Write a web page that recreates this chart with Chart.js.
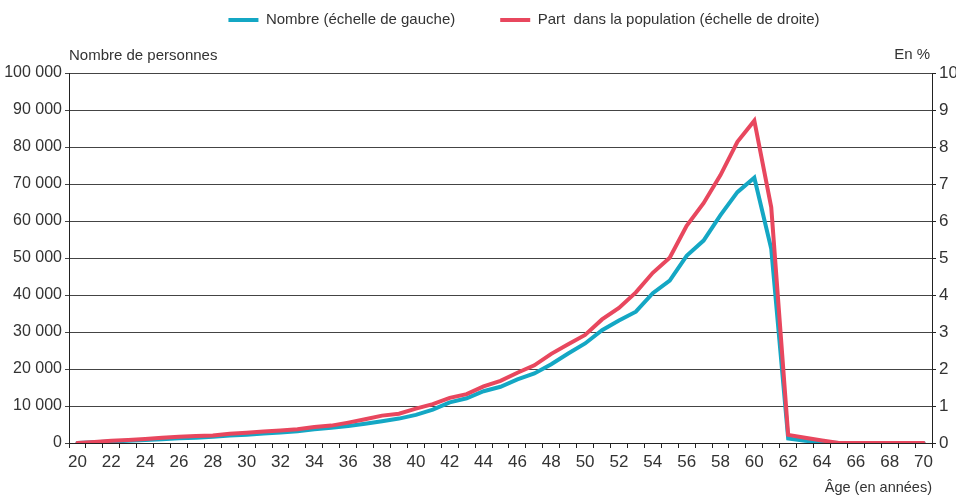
<!DOCTYPE html>
<html>
<head>
<meta charset="utf-8">
<script src="https://cdn.jsdelivr.net/npm/chart.js@4/dist/chart.umd.min.js"></script>
<style>
  html, body { margin: 0; padding: 0; background: #fff; }
  #wrap { width: 956px; height: 497px; }
</style>
</head>
<body>
<div id="wrap"><canvas id="graph"></canvas></div>
<script>
// ages 20 to 70
var ages = [20,21,22,23,24,25,26,27,28,29,30,31,32,33,34,35,36,37,38,39,40,
  41,42,43,44,45,46,47,48,49,50,51,52,53,54,55,56,57,58,59,60,
  61,62,63,64,65,66,67,68,69,70];

// nombre de personnes (échelle de gauche)
var nombre = [0,200,400,600,800,1000,1250,1450,1700,2000,2250,2550,2850,3200,3700,4100,
  4600,5200,5900,6600,7600,9000,11000,12100,14000,15200,17200,18800,21300,24200,26900,
  30500,33100,35500,40500,43900,50600,54700,61600,67800,71700,52500,1200,600,200,
  0,0,0,0,0,0];

// part dans la population, en % (échelle de droite)
var part = [0,0.03,0.06,0.08,0.11,0.14,0.17,0.19,0.20,0.25,0.28,0.31,0.34,0.37,0.43,0.47,
  0.55,0.64,0.74,0.79,0.93,1.05,1.22,1.32,1.53,1.68,1.90,2.10,2.41,2.67,2.92,
  3.34,3.65,4.07,4.60,5.01,5.87,6.48,7.24,8.14,8.71,6.37,0.22,0.14,0.07,
  0,0,0,0,0,0];

var FONT = "'Liberation Sans', Arial, sans-serif";
var TXT = '#333';
var BLEU = '#14a7c4';
var ROUGE = '#e8475e';

function milliers(v) {
  return String(v).replace(/\B(?=(\d{3})+(?!\d))/g, ' ');
}

// "En %" en haut de l'échelle de droite, et légende un peu décalée à droite
var extras = {
  id: 'extras',
  afterLayout: function(chart) {
    chart.legend.left += 46;
    chart.legend.right += 46;
  },
  afterDraw: function(chart) {
    var ctx = chart.ctx;
    var tb = chart.titleBlock;
    ctx.save();
    ctx.font = '15px ' + FONT;
    ctx.fillStyle = TXT;
    ctx.textAlign = 'right';
    ctx.textBaseline = 'middle';
    ctx.fillText('En %', chart.chartArea.right - 2, tb.top + (tb.bottom - tb.top) / 2);
    ctx.restore();
  }
};

var ctx = document.getElementById('graph');
var chart = new Chart(ctx, {
  type: 'line',
  data: {
    labels: ages,
    datasets: [{
      label: 'Nombre (échelle de gauche)',
      data: nombre,
      yAxisID: 'y',
      borderColor: BLEU,
      backgroundColor: BLEU,
      borderWidth: 4,
      borderCapStyle: 'round',
      pointRadius: 0,
      tension: 0,
      order: 1
    }, {
      label: 'Part  dans la population (échelle de droite)',
      data: part,
      yAxisID: 'y1',
      borderColor: ROUGE,
      backgroundColor: ROUGE,
      borderWidth: 4,
      borderCapStyle: 'round',
      pointRadius: 0,
      tension: 0,
      order: 0
    }]
  },
  options: {
    responsive: true,
    maintainAspectRatio: false,
    animation: false,
    layout: { padding: { top: -32.5, left: 0, right: 0, bottom: 0 } },
    plugins: {
      tooltip: { enabled: false },
      legend: {
        position: 'top',
        labels: {
          usePointStyle: true,
          pointStyle: 'line',
          pointStyleWidth: 30,
          padding: 45,
          color: TXT,
          font: { family: FONT, size: 15 },
          sort: function(a, b) { return a.datasetIndex - b.datasetIndex; }
        }
      },
      title: {
        display: true,
        text: 'Nombre de personnes',
        align: 'start',
        fullSize: false,
        weight: 500,
        color: TXT,
        font: { family: FONT, size: 15, weight: 'normal' },
        padding: { top: 9.5, bottom: 8 }
      }
    },
    scales: {
      x: {
        type: 'category',
        offset: true,
        grid: {
          offset: true,
          drawOnChartArea: false,
          drawTicks: true,
          tickLength: 5,
          color: '#222'
        },
        border: { color: '#222', width: 1 },
        ticks: {
          autoSkip: false,
          maxRotation: 0,
          padding: 4,
          color: TXT,
          font: { family: FONT, size: 17 },
          callback: function(v, i) {
            var a = ages[i];
            return a % 2 === 0 ? String(a) : '';
          }
        },
        title: {
          display: true,
          text: 'Âge (en années)',
          align: 'end',
          color: TXT,
          font: { family: FONT, size: 14.5 },
          padding: { top: 0, bottom: 0 }
        },
        afterFit: function(s) { s.height = 54; }
      },
      y: {
        position: 'left',
        min: 0,
        max: 100000,
        grid: { color: '#444', lineWidth: 1, tickLength: 4 },
        border: { color: '#222', width: 1 },
        ticks: {
          stepSize: 10000,
          padding: 3,
          color: TXT,
          font: { family: FONT, size: 16 },
          callback: function(v) { return milliers(v); }
        },
        afterFit: function(s) { s.width = 69; }
      },
      y1: {
        position: 'right',
        min: 0,
        max: 10,
        grid: { drawOnChartArea: false, tickLength: 4, color: '#222' },
        border: { color: '#222', width: 1 },
        ticks: {
          stepSize: 1,
          padding: 3,
          color: TXT,
          font: { family: FONT, size: 17 }
        },
        afterFit: function(s) { s.width = 24; }
      }
    }
  },
  plugins: [extras]
});
</script>
</body>
</html>
